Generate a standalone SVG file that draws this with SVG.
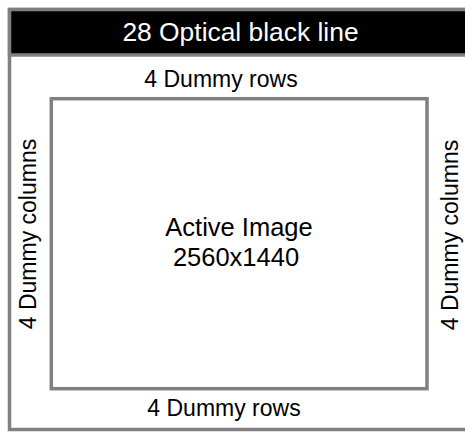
<svg xmlns="http://www.w3.org/2000/svg" width="465" height="432" viewBox="0 0 465 432">
  <style>
    .frame { fill: #ffffff; stroke: #808080; stroke-width: 3.5; }
    .band { fill: #000000; stroke: #808080; stroke-width: 3.5; }
    .lbl { font-family: "Liberation Sans", Arial, sans-serif; fill: #000000; text-anchor: middle; }
    .small { font-size: 23px; }
    .big { font-size: 25.5px; }
  </style>
  <rect x="0" y="0" width="465" height="432" fill="#ffffff"/>

  <!-- sensor outline -->
  <g id="sensor">
    <rect class="frame" x="9.5" y="9.5" width="470" height="420"/>
  </g>

  <!-- optical black band along the top -->
  <g id="optical-black">
    <rect class="band" x="9.5" y="9.5" width="470" height="45.5"/>
    <text class="lbl" x="240.5" y="41" style="fill:#ffffff; font-size:26.4px">28 Optical black line</text>
  </g>

  <!-- active pixel area -->
  <g id="active-image">
    <rect class="frame" x="51.3" y="98.7" width="375.7" height="290"/>
    <text class="lbl big" x="239" y="236">Active Image</text>
    <text class="lbl big" x="236" y="265.5">2560x1440</text>
  </g>

  <!-- dummy margins -->
  <g id="dummy-rows-top">
    <text class="lbl small" x="221" y="87">4 Dummy rows</text>
  </g>
  <g id="dummy-rows-bottom">
    <text class="lbl small" x="224" y="416">4 Dummy rows</text>
  </g>
  <g id="dummy-columns-left">
    <text class="lbl small" transform="translate(36 234) rotate(-90)">4 Dummy columns</text>
  </g>
  <g id="dummy-columns-right">
    <text class="lbl small" transform="translate(458 235) rotate(-90)">4 Dummy columns</text>
  </g>

  <g id="connectors"/>
</svg>
